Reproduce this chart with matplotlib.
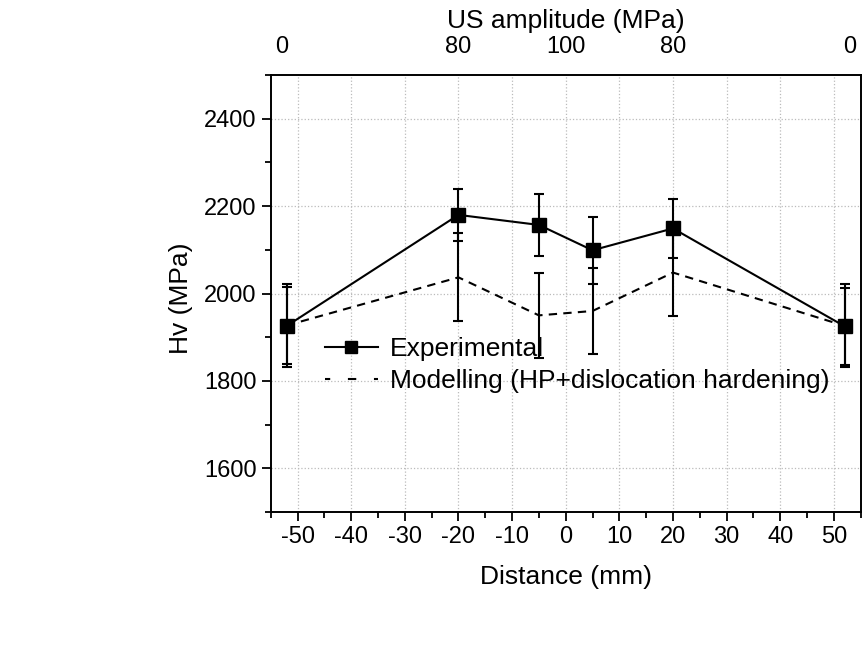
import matplotlib
matplotlib.use('Agg')
import matplotlib.pyplot as plt
from matplotlib.lines import Line2D
import numpy as np

plt.rcParams['font.family'] = ['Liberation Sans', 'DejaVu Sans']
plt.rcParams['axes.unicode_minus'] = False

# data
distance = [-52, -20, -5, 5, 20, 52]
hv_exp = [1926, 2180, 2157, 2099, 2149, 1925]
hv_exp_err = [88, 59, 70, 77, 68, 88]
hv_model = [1927, 2037, 1950, 1960, 2048, 1926]
hv_model_err = [95, 101, 98, 99, 100, 95]

# top axis (US amplitude) labels
us_pos = [-53, -20, 0, 20, 53]
us_labels = ['0', '80', '100', '80', '0']

model_dash = (0, (4, 3))

fig = plt.figure(figsize=(8.65, 6.53), dpi=100)
ax = fig.add_axes([0.313, 0.216, 0.682, 0.669])

ax.errorbar(distance, hv_model, yerr=hv_model_err, color='black', lw=1.5,
            linestyle=model_dash, capsize=3.5, capthick=1.5, elinewidth=1.5,
            zorder=3)
ax.errorbar(distance, hv_exp, yerr=hv_exp_err, color='black', lw=1.5,
            marker='s', markersize=9.5, capsize=3.5, capthick=1.5, elinewidth=1.5,
            zorder=4)

ax.set_xlim(-55, 55)
ax.set_ylim(1500, 2500)
ax.set_xticks(np.arange(-50, 51, 10))
ax.set_xticks(np.arange(-55, 56, 5), minor=True)
ax.set_yticks(np.arange(1600, 2401, 200))
ax.set_yticks(np.arange(1500, 2501, 100), minor=True)
ax.grid(True, which='major', linestyle=':', color='#bbbbbb', lw=0.9)

ax.tick_params(which='both', direction='out', labelsize=17, width=1.3,
               top=True, right=False, labeltop=False)
ax.tick_params(which='major', length=6.5)
ax.tick_params(which='minor', length=4)
for s in ax.spines.values():
    s.set_linewidth(1.4)

ax.set_xlabel('Distance (mm)', fontsize=19, labelpad=12)
ax.set_ylabel('Hv (MPa)', fontsize=19)
ax.yaxis.set_label_coords(-0.132, 0.49)

ax2 = ax.twiny()
ax2.set_xlim(ax.get_xlim())
ax2.set_xticks(us_pos)
ax2.set_xticklabels(us_labels)
ax2.tick_params(length=0, labelsize=17, pad=12)
ax2.set_xlabel('US amplitude (MPa)', fontsize=19, labelpad=6)
for s in ax2.spines.values():
    s.set_visible(False)

handles = [Line2D([], [], color='black', lw=1.5, marker='s', markersize=8),
           Line2D([], [], color='black', lw=1.5, linestyle=(1.5, (4, 8.5)))]
labels = ['Experimental', 'Modelling (HP+dislocation hardening)']
ax.legend(handles, labels, loc='upper left', bbox_to_anchor=(0.074, 0.425),
          frameon=False, fontsize=19, handlelength=2.0, handletextpad=0.45,
          labelspacing=0.3, borderaxespad=0)

fig.savefig('out.png', dpi=100)
